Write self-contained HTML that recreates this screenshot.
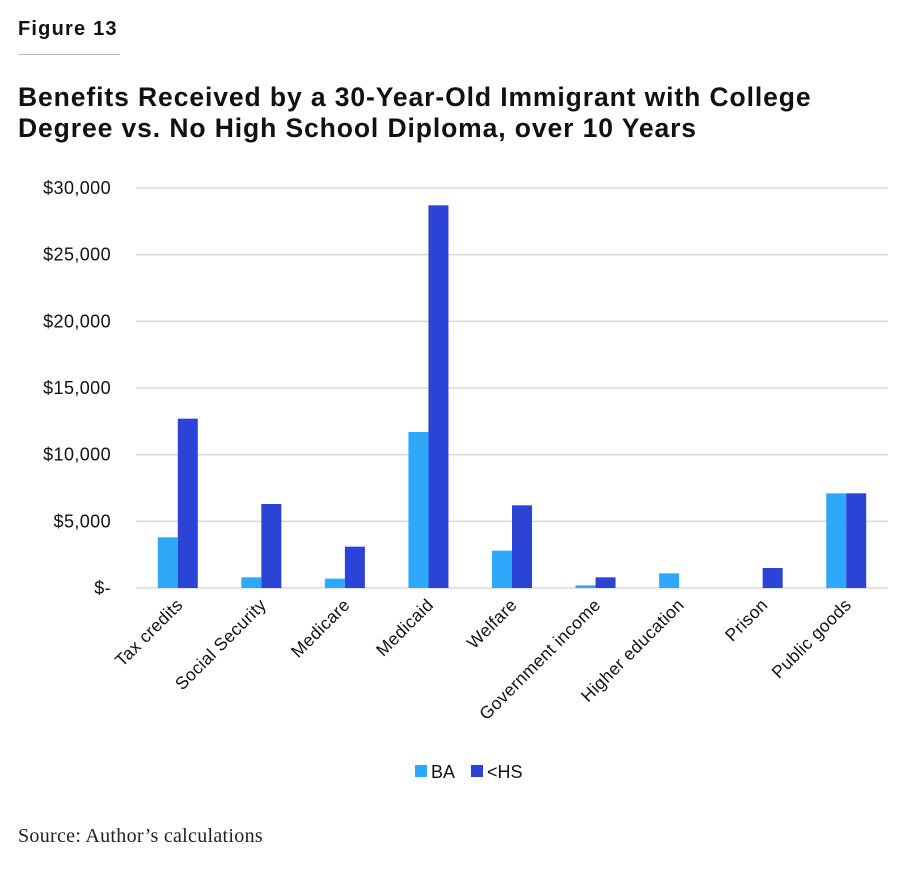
<!DOCTYPE html>
<html><head><meta charset="utf-8"><style>
body{margin:0;width:920px;height:869px;background:#fff;font-family:"Liberation Sans",sans-serif;overflow:hidden;position:relative}
.fig{position:absolute;left:18px;top:18px;font-weight:bold;font-size:20px;letter-spacing:1.2px;color:#111}
.rule{position:absolute;left:18px;top:54px;width:102px;height:1px;background:#bbb}
.title{position:absolute;left:18px;top:82px;font-weight:bold;font-size:26.5px;letter-spacing:0.9px;line-height:31px;color:#111;white-space:nowrap}
.src{position:absolute;left:18px;top:825px;font-family:"Liberation Serif",serif;font-size:20px;letter-spacing:0.3px;color:#222}
</style></head><body>
<div class="fig">Figure 13</div>
<div class="rule"></div>
<div class="title">Benefits Received by a 30-Year-Old Immigrant with College<br>Degree vs. No High School Diploma, over 10 Years</div>
<svg id="chart" width="920" height="869" style="position:absolute;left:0;top:0"></svg>
<div class="src">Source: Author’s calculations</div>
<script>
const categories=["Tax credits","Social Security","Medicare","Medicaid","Welfare","Government income","Higher education","Prison","Public goods"];
const baValues=[3800,800,700,11700,2800,200,1100,0,7100];
const hsValues=[12700,6300,3100,28700,6200,800,0,1500,7100];
const yTicks=[0,5000,10000,15000,20000,25000,30000];
const yTickLabels=["$-","$5,000","$10,000","$15,000","$20,000","$25,000","$30,000"];
const svg=document.getElementById('chart');const NS='http://www.w3.org/2000/svg';
const x0=136,x1=888,y0=588,y1=188,ymax=30000;
const band=(x1-x0)/categories.length,bw=20;
const y=v=>y0-(v/ymax)*(y0-y1);
const xc=i=>x0+band*(i+0.5);
function mk(t,a){const e=document.createElementNS(NS,t);for(const k in a)e.setAttribute(k,a[k]);svg.appendChild(e);return e;}
yTicks.forEach((v,i)=>{
 const l=mk('line',{x1:x0,x2:x1,y1:y(v),y2:y(v),stroke:'#d9d9d9','stroke-width':1.5});
 
 
 const t=mk('text',{x:111,y:y(v)+6,'text-anchor':'end','font-size':18,'letter-spacing':0.4,fill:'#111'});
 t.textContent=yTickLabels[i];
 
 
});
categories.forEach((c,i)=>{
 const cx=xc(i);
 const b1=mk('rect',{x:cx-bw,y:y(baValues[i]),width:bw,height:y0-y(baValues[i]),fill:'#2ea8f8'});
 
 
 const b2=mk('rect',{x:cx,y:y(hsValues[i]),width:bw,height:y0-y(hsValues[i]),fill:'#2b44d6'});
 
 
 const t=mk('text',{x:cx+6,y:606,'text-anchor':'end','font-size':17.5,'letter-spacing':0.3,fill:'#111',transform:`rotate(-45 ${cx+6} 606)`});
 t.textContent=c;
 
 
});
const lg=[["BA","#2ea8f8",415],["<HS","#2b44d6",471]];
lg.forEach(d=>{
 const r=mk('rect',{x:d[2],y:765,width:12,height:12,fill:d[1]});
 
 
 const t=mk('text',{x:d[2]+16,y:778,'font-size':18,fill:'#111'});
 t.textContent=d[0];
 
 
});
</script>
</body></html>
